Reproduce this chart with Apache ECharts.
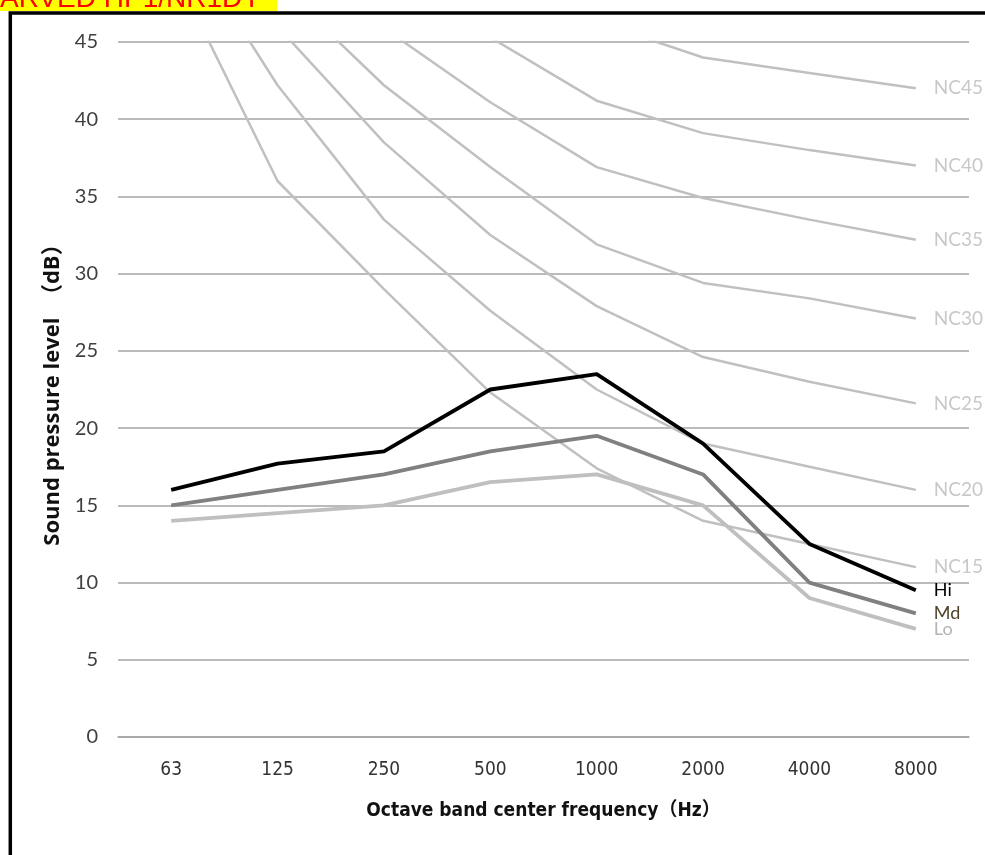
<!DOCTYPE html>
<html>
<head>
<meta charset="utf-8">
<script src="https://cdn.jsdelivr.net/npm/echarts@6/dist/echarts.min.js"></script>
<style>
  html, body { margin: 0; padding: 0; background: #ffffff; }
  #chart { width: 985px; height: 855px; }
</style>
</head>
<body>
<div id="chart"></div>
<script>
// Octave band centre frequencies (Hz)
const freqs = ['63', '125', '250', '500', '1000', '2000', '4000', '8000'];

// Unit sound pressure levels (dB) at each fan speed
const hi = [16, 17.7, 18.5, 22.5, 23.5, 19, 12.5, 9.5];
const md = [15, 16, 17, 18.5, 19.5, 17, 10, 8];
const lo = [14, 14.5, 15, 16.5, 17, 15, 9, 7];

// Noise criterion reference curves (dB)
const nc15 = [50, 36, 29, 22.3, 17.4, 14, 12.5, 11];
const nc20 = [53, 42.2, 33.5, 27.6, 22.5, 19, 17.5, 16];
const nc25 = [54, 46, 38.5, 32.5, 27.9, 24.6, 23, 21.6];
const nc30 = [57, 48.8, 42.2, 36.9, 31.9, 29.4, 28.4, 27.1];
const nc35 = [60, 52, 45.9, 41.1, 36.9, 34.9, 33.5, 32.2];
const nc40 = [64, 56, 50, 45.3, 41.2, 39.1, 38, 37];
const nc45 = [67, 60, 54, 49.5, 46.3, 44, 43, 42];

// Y axis ticks
const yMin = 0, yMax = 45, yStep = 5;

const ncCurves = [
  ['NC15', nc15], ['NC20', nc20], ['NC25', nc25], ['NC30', nc30],
  ['NC35', nc35], ['NC40', nc40], ['NC45', nc45]
];

const labelFont = "Lato, 'Noto Sans', sans-serif";

function ncSeries(name, data) {
  return {
    name: name,
    type: 'line',
    data: data,
    showSymbol: false,
    silent: true,
    clip: true,
    z: 2,
    lineStyle: { color: '#c0c0c0', width: 2.5 },
    endLabel: {
      show: true,
      formatter: name,
      distance: 18,
      color: '#c8c8c8',
      fontSize: 19,
      fontFamily: labelFont
    }
  };
}

function speedSeries(name, data, color, labelColor, z) {
  return {
    name: name,
    type: 'line',
    data: data,
    showSymbol: false,
    silent: true,
    z: z,
    lineStyle: { color: color, width: 3.8 },
    endLabel: {
      show: true,
      formatter: name,
      distance: 18,
      color: labelColor,
      fontSize: 18,
      fontFamily: labelFont
    }
  };
}

const chart = echarts.init(document.getElementById('chart'), null, { renderer: 'canvas' });

chart.setOption({
  animation: false,
  backgroundColor: '#ffffff',
  grid: { left: 118, right: 16, top: 42, bottom: 118 },
  graphic: [
    // outer frame
    {
      type: 'rect',
      shape: { x: 10.3, y: 13, width: 1000, height: 900 },
      style: { fill: 'none', stroke: '#000000', lineWidth: 3.5 },
      z: 100
    },
    // header tag
    {
      type: 'rect',
      shape: { x: 0, y: 0, width: 277, height: 11 },
      style: { fill: '#ffff00' },
      z: 99
    },
    {
      type: 'text',
      x: 0,
      y: 13.5,
      style: {
        text: 'ARVED HP1/NR1DY',
        fill: '#ff0000',
        font: "28px 'Liberation Sans', Arial, sans-serif",
        textVerticalAlign: 'bottom'
      },
      z: 99
    }
  ],
  xAxis: {
    type: 'category',
    data: freqs,
    boundaryGap: true,
    name: 'Octave band center frequency（Hz）',
    nameLocation: 'middle',
    nameGap: 65,
    nameTextStyle: {
      color: '#111111',
      fontSize: 19,
      fontWeight: 'bold',
      fontFamily: "'Liberation Sans Narrow', 'DejaVu Sans Condensed', 'Noto Sans CJK SC', sans-serif"
    },
    axisLine: { show: true, lineStyle: { color: '#a5a5a5', width: 1.5 } },
    axisTick: { show: false },
    axisLabel: {
      margin: 24,
      color: '#333333',
      fontSize: 19,
      fontFamily: "'Liberation Sans Narrow', 'DejaVu Sans Condensed', sans-serif"
    },
    splitLine: { show: false }
  },
  yAxis: {
    type: 'value',
    min: yMin,
    max: yMax,
    interval: yStep,
    name: 'Sound pressure level  （dB）',
    nameLocation: 'middle',
    nameGap: 52,
    nameTextStyle: {
      color: '#111111',
      fontSize: 22,
      fontWeight: 'bold',
      fontFamily: "'Open Sans', 'Noto Sans CJK SC', sans-serif"
    },
    axisLine: { show: false },
    axisTick: { show: false },
    axisLabel: {
      margin: 20,
      color: '#404040',
      fontSize: 20,
      fontFamily: labelFont
    },
    splitLine: { show: true, lineStyle: { color: '#a5a5a5', width: 1.5 } }
  },
  series: [
    ...ncCurves.map(c => ncSeries(c[0], c[1])),
    speedSeries('Lo', lo, '#bfbfbf', '#b4b4b4', 4),
    speedSeries('Md', md, '#808080', '#4f4327', 5),
    speedSeries('Hi', hi, '#000000', '#000000', 6)
  ]
});
</script>
</body>
</html>
